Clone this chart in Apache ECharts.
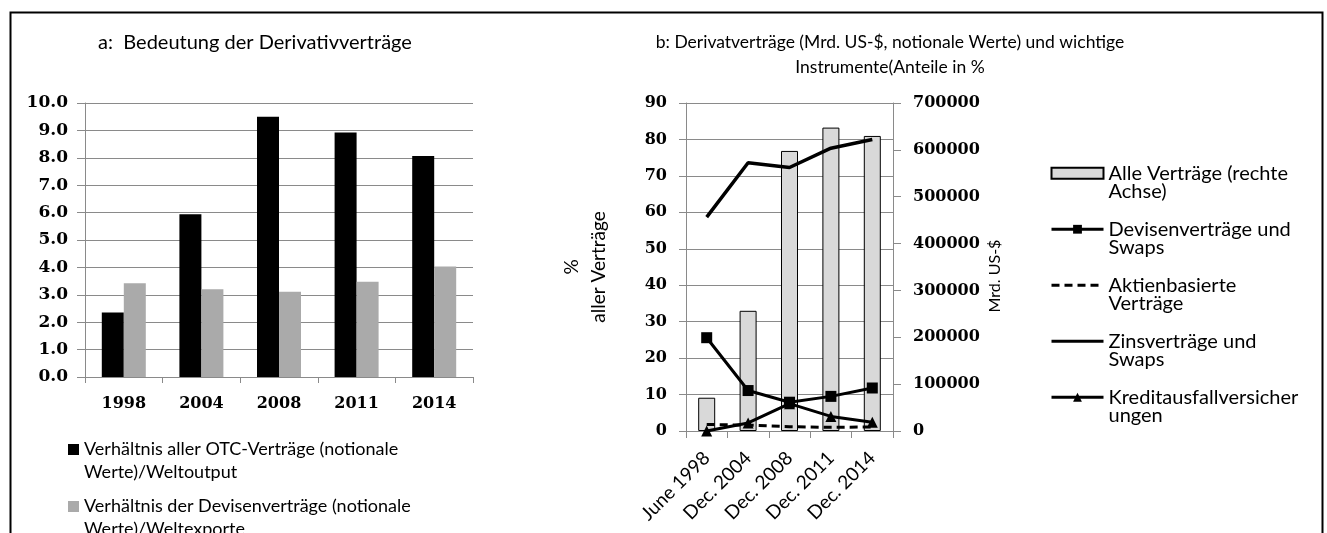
<!DOCTYPE html>
<html><head><meta charset="utf-8">
<script src="https://cdn.jsdelivr.net/npm/echarts@6/dist/echarts.min.js"></script>
<style>html,body{margin:0;padding:0;background:#fff}#c{width:1327px;height:533px}</style>
</head><body><div id="c"></div>
<script>
// ---- Panel a data ----
const yearsA = ['1998', '2004', '2008', '2011', '2014'];
const otcRatio = [2.35, 5.94, 9.5, 8.92, 8.07];
const fxRatio = [3.42, 3.2, 3.11, 3.48, 4.03];
const namesA = ['Verhältnis aller OTC-Verträge (notionale Werte)/Weltoutput',
                'Verhältnis der Devisenverträge (notionale Werte)/Weltexporte'];
const legendA = ['Verhältnis aller OTC-Verträge (notionale\nWerte)/Weltoutput',
                 'Verhältnis der Devisenverträge (notionale\nWerte)/Weltexporte'];

// ---- Panel b data ----
const datesB = ['June 1998', 'Dec. 2004', 'Dec. 2008', 'Dec. 2011', 'Dec. 2014'];
const allContracts = [71000, 256500, 597700, 647500, 629700];
const fxShare = [25.6, 11.1, 7.9, 9.5, 11.8];
const equityShare = [1.8, 1.6, 1.2, 1.0, 1.1];
const interestShare = [58.7, 73.6, 72.3, 77.6, 80.0];
const cdsShare = [0, 2.2, 7.5, 4.0, 2.4];
const namesB = ['Alle Verträge (rechte Achse)', 'Devisenverträge und Swaps',
                'Aktienbasierte Verträge', 'Zinsverträge und Swaps',
                'Kreditausfallversicherungen'];
const legendB = ['Alle Verträge (rechte\nAchse)', 'Devisenverträge und\nSwaps',
                 'Aktienbasierte\nVerträge', 'Zinsverträge und\nSwaps',
                 'Kreditausfallversicher\nungen'];

const TXT = 'Lato';
const NUM = 'DejaVu Serif';
const GRAY = '#8a8a8a';

// leading empty line so the icon sits level with the first text line
const lead = s => '\n' + s;

const chart = echarts.init(document.getElementById('c'), null, {renderer: 'canvas'});
chart.setOption({
  animation: false,
  backgroundColor: '#fff',
  graphic: [{
    type: 'rect', left: 8, top: 10, silent: true,
    shape: {width: 1312, height: 600},
    style: {fill: 'none', stroke: '#000', lineWidth: 2}
  }],
  title: [
    {text: 'a:  Bedeutung der Derivativverträge', left: 255, top: 31, padding: 0, textAlign: 'center',
     textStyle: {fontFamily: TXT, fontSize: 20, fontWeight: 'normal', color: '#000', lineHeight: 24}},
    {text: 'b: Derivatverträge (Mrd. US-$, notionale Werte) und wichtige\nInstrumente(Anteile in %',
     left: 890, top: 29.5, padding: 0, textAlign: 'center',
     textStyle: {fontFamily: TXT, fontSize: 17.5, fontWeight: 'normal', color: '#000', lineHeight: 25}}
  ],
  legend: [
    {
      orient: 'vertical', left: 68, top: 415, height: 300, padding: 0, itemGap: -12,
      itemWidth: 11, itemHeight: 11, selectedMode: false,
      data: namesA.map(n => ({name: n, icon: 'rect'})),
      formatter: n => lead(legendA[namesA.indexOf(n)]),
      textStyle: {fontFamily: TXT, fontSize: 18, color: '#000', lineHeight: 23}
    },
    {
      orient: 'vertical', left: 1050, top: 144.75, height: 400, padding: 0, itemGap: -1,
      itemWidth: 52, itemHeight: 11, selectedMode: false,
      data: [
        {name: namesB[0], icon: 'rect'},
        {name: namesB[1], lineStyle: {width: 3}},
        {name: namesB[2], lineStyle: {width: 3}, itemStyle: {opacity: 0}},
        {name: namesB[3], lineStyle: {width: 3}, itemStyle: {opacity: 0}},
        {name: namesB[4], lineStyle: {width: 3}}
      ],
      formatter: n => lead(legendB[namesB.indexOf(n)]),
      textStyle: {fontFamily: TXT, fontSize: 20, color: '#000', lineHeight: 18.5}
    }
  ],
  grid: [
    {left: 85, top: 103, width: 388, height: 274, containLabel: false},
    {left: 686, top: 103, width: 207, height: 328, containLabel: false}
  ],
  xAxis: [
    {type: 'category', gridIndex: 0, data: yearsA,
     axisLine: {lineStyle: {color: GRAY}},
     axisTick: {show: true, length: 6, lineStyle: {color: GRAY}},
     axisLabel: {fontFamily: NUM, fontWeight: 'bold', fontSize: 16, color: '#000', margin: 19}},
    {type: 'category', gridIndex: 1, data: datesB,
     axisLine: {lineStyle: {color: GRAY}},
     axisTick: {show: true, length: 7, lineStyle: {color: GRAY}},
     axisLabel: {fontFamily: TXT, fontSize: 19, color: '#000', rotate: 45, margin: 24, interval: 0}}
  ],
  yAxis: [
    {type: 'value', gridIndex: 0, min: 0, max: 10, interval: 1,
     axisLine: {show: true, lineStyle: {color: GRAY}},
     axisTick: {show: true, length: 8, lineStyle: {color: GRAY}},
     splitLine: {lineStyle: {color: GRAY}},
     axisLabel: {fontFamily: NUM, fontWeight: 'bold', fontSize: 17, color: '#000', margin: 17,
                 formatter: v => v.toFixed(1)}},
    {type: 'value', gridIndex: 1, min: 0, max: 90, interval: 10, position: 'left',
     name: '%\naller Verträge', nameLocation: 'middle', nameGap: 74, nameRotate: 90,
     nameTextStyle: {fontFamily: TXT, fontSize: 19, color: '#000', lineHeight: 27},
     axisLine: {show: true, lineStyle: {color: GRAY}},
     axisTick: {show: true, length: 7, lineStyle: {color: GRAY}},
     splitLine: {lineStyle: {color: GRAY}},
     axisLabel: {fontFamily: NUM, fontWeight: 'bold', fontSize: 16, color: '#000', margin: 19}},
    {type: 'value', gridIndex: 1, min: 0, max: 700000, interval: 100000, position: 'right',
     name: 'Mrd. US-$', nameLocation: 'middle', nameGap: 94, nameRotate: 90,
     nameTextStyle: {fontFamily: TXT, fontSize: 16, color: '#000', padding: [0, 18, 0, 0]},
     axisLine: {show: true, lineStyle: {color: GRAY}},
     axisTick: {show: true, length: 8, lineStyle: {color: GRAY}},
     splitLine: {show: false},
     axisLabel: {fontFamily: NUM, fontWeight: 'bold', fontSize: 16, color: '#000', margin: 20,
                 formatter: v => String(v)}}
  ],
  series: [
    {name: namesA[0], type: 'bar', xAxisIndex: 0, yAxisIndex: 0, data: otcRatio,
     barWidth: 22, barGap: '0%', itemStyle: {color: '#000'}},
    {name: namesA[1], type: 'bar', xAxisIndex: 0, yAxisIndex: 0, data: fxRatio,
     barWidth: 22, barGap: '0%', itemStyle: {color: '#aaaaaa'}},

    {name: namesB[0], type: 'bar', xAxisIndex: 1, yAxisIndex: 2, data: allContracts,
     barWidth: 17, itemStyle: {color: '#d9d9d9', borderColor: '#000', borderWidth: 1}},
    {name: namesB[1], type: 'line', xAxisIndex: 1, yAxisIndex: 1, data: fxShare,
     symbol: 'rect', symbolSize: 11, showSymbol: true,
     lineStyle: {color: '#000', width: 3}, itemStyle: {color: '#000'}},
    {name: namesB[2], type: 'line', xAxisIndex: 1, yAxisIndex: 1, data: equityShare,
     symbol: 'none',
     lineStyle: {color: '#000', width: 3, type: [8, 5]}, itemStyle: {color: '#000'}},
    {name: namesB[3], type: 'line', xAxisIndex: 1, yAxisIndex: 1, data: interestShare,
     symbol: 'none',
     lineStyle: {color: '#000', width: 3.5}, itemStyle: {color: '#000'}},
    {name: namesB[4], type: 'line', xAxisIndex: 1, yAxisIndex: 1, data: cdsShare,
     symbol: 'triangle', symbolSize: 11, showSymbol: true,
     lineStyle: {color: '#000', width: 3}, itemStyle: {color: '#000'}}
  ]
});
</script></body></html>
